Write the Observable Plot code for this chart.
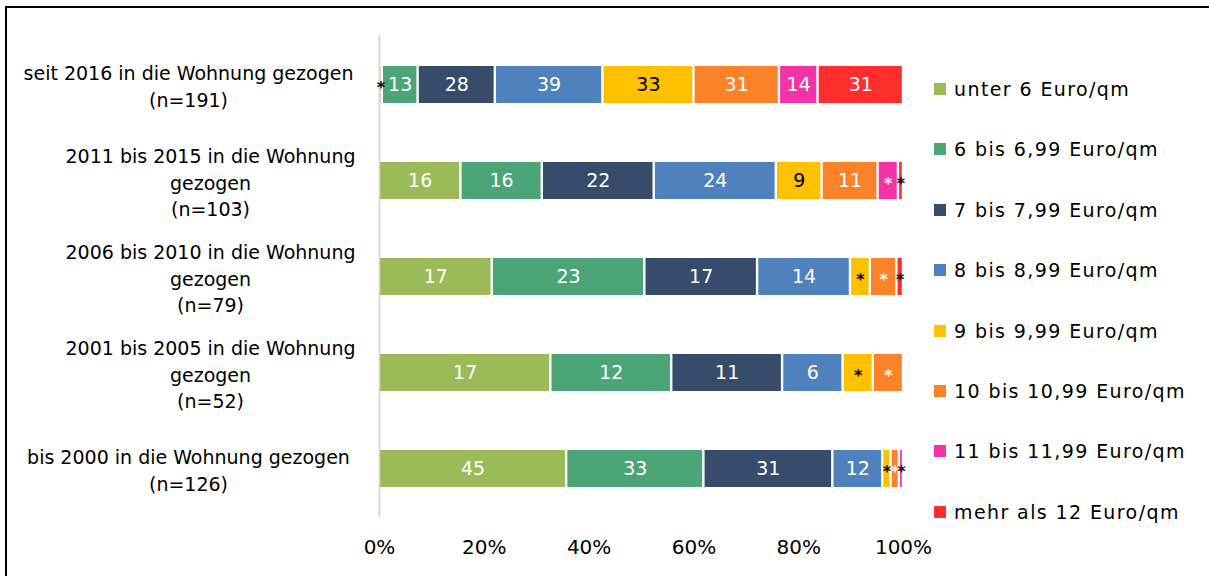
<!DOCTYPE html>
<html><head><meta charset="utf-8">
<script src="https://cdn.jsdelivr.net/npm/d3@7"></script>
<script src="https://cdn.jsdelivr.net/npm/@observablehq/plot@0.6"></script>
<style>
body{margin:0;background:#fff;}
#wrap{position:relative;width:1209px;height:576px;overflow:hidden;font-family:"DejaVu Sans",sans-serif;}
#frame{position:absolute;left:5px;top:6px;width:1210px;height:600px;border-left:2px solid #000;border-top:2px solid #000;}
#chart{position:absolute;left:0;top:0;}
#legend{position:absolute;left:934px;top:0;width:275px;height:576px;}
.item{position:absolute;left:0;height:24px;display:flex;align-items:center;white-space:nowrap;font-size:19px;letter-spacing:1.4px;color:#000;}
.sw{width:12px;height:12px;margin-right:8px;flex:none;}
</style></head>
<body><div id="wrap"><div id="frame"></div><div id="chart"></div><div id="legend"></div></div>
<script>
// categories (top to bottom)
const categories = [
  "seit 2016 in die Wohnung gezogen\n(n=191)",
  "2011 bis 2015 in die Wohnung\ngezogen\n(n=103)",
  "2006 bis 2010 in die Wohnung\ngezogen\n(n=79)",
  "2001 bis 2005 in die Wohnung\ngezogen\n(n=52)",
  "bis 2000 in die Wohnung gezogen\n(n=126)"
];
const seriesNames = [
  "unter 6 Euro/qm", "6 bis 6,99 Euro/qm", "7 bis 7,99 Euro/qm", "8 bis 8,99 Euro/qm",
  "9 bis 9,99 Euro/qm", "10 bis 10,99 Euro/qm", "11 bis 11,99 Euro/qm", "mehr als 12 Euro/qm"
];
const seriesColors = ["#9BBB59", "#4CA577", "#374C6B", "#4F81BD", "#FFC000", "#FA8229", "#F533A8", "#FF2E2E"];
// counts per series, one value per category
const unter6 = [1, 16, 17, 17, 45];
const bis699 = [13, 16, 23, 12, 33];
const bis799 = [28, 22, 17, 11, 31];
const bis899 = [39, 24, 14, 6, 12];
const bis999 = [33, 9, 3, 3, 2];
const bis1099 = [31, 11, 4, 3, 2];
const bis1199 = [14, 4, 0, 0, 1];
const mehr12 = [31, 1, 1, 0, 0];
const xTicks = [0, 20, 40, 60, 80, 100];

const seriesValues = [unter6, bis699, bis799, bis899, bis999, bis1099, bis1199, mehr12];
const table = [];
categories.forEach((cat, ci) => {
  seriesNames.forEach((s, si) => {
    const v = seriesValues[si][ci];
    if (v > 0) table.push({cat, series: s, value: v});
  });
});
const isStar = d => d.value < 5;
const isBlack = d => d.value <= 1 || d.series === "9 bis 9,99 Euro/qm";
const stackOpts = extra => Plot.stackX({x: "value", y: "cat", z: "series", order: seriesNames, offset: "normalize", ...extra});
const numLabels = (black) => Plot.text(table, stackOpts({
  text: d => (!isStar(d) && isBlack(d) === black) ? String(d.value) : "",
  fill: black ? "black" : "white", fontSize: 19, letterSpacing: "0.8px"
}));
const starLabels = (black) => Plot.text(table, stackOpts({
  text: d => (isStar(d) && isBlack(d) === black) ? "*" : "",
  fill: black ? "black" : "white", fontSize: 16, dy: 3, fontWeight: "bold"
}));

const oneLine = categories.filter(c => c.split("\n").length === 2);
const threeLine = categories.filter(c => c.split("\n").length === 3);

const chart = Plot.plot({
  width: 1209,
  height: 576,
  marginLeft: 379,
  marginRight: 306,
  marginTop: 35,
  marginBottom: 59,
  style: {fontFamily: "'DejaVu Sans', sans-serif", fontSize: "18px", color: "#000", background: "transparent"},
  x: {domain: [0, 100], percent: true, axis: null},
  y: {domain: categories, paddingInner: 0.615, paddingOuter: 0.3075, axis: null},
  color: {domain: seriesNames, range: seriesColors},
  marks: [
    Plot.ruleX(xTicks, {stroke: "#D9D9D9", strokeWidth: 2}),
    Plot.barX(table, stackOpts({fill: "series", insetLeft: 1.2, insetRight: 1.2})),
    numLabels(false),
    numLabels(true),
    starLabels(false),
    starLabels(true),
    Plot.axisX({ticks: xTicks, tickFormat: d => d + "%", tickSize: 0, tickPadding: 22, fontSize: 20, letterSpacing: "1.5px", label: null}),
    Plot.text(oneLine, {y: d => d, text: d => d, frameAnchor: "left", dx: -191, textAnchor: "middle", lineHeight: 1.4, fontSize: 19, letterSpacing: "0.6px", fill: "black"}),
    Plot.text(threeLine, {y: d => d, text: d => d, frameAnchor: "left", dx: -169, textAnchor: "middle", lineHeight: 1.4, fontSize: 19, letterSpacing: "0.9px", fill: "black"})
  ]
});
document.getElementById("chart").appendChild(chart);

const legend = document.getElementById("legend");
seriesNames.forEach((s, i) => {
  const item = document.createElement("div");
  item.className = "item";
  item.style.top = (89 + 60.4 * i - 12) + "px";
  const sw = document.createElement("span");
  sw.className = "sw";
  sw.style.background = seriesColors[i];
  const t = document.createElement("span");
  t.textContent = s;
  item.appendChild(sw);
  item.appendChild(t);
  legend.appendChild(item);
});
</script>
</body></html>
